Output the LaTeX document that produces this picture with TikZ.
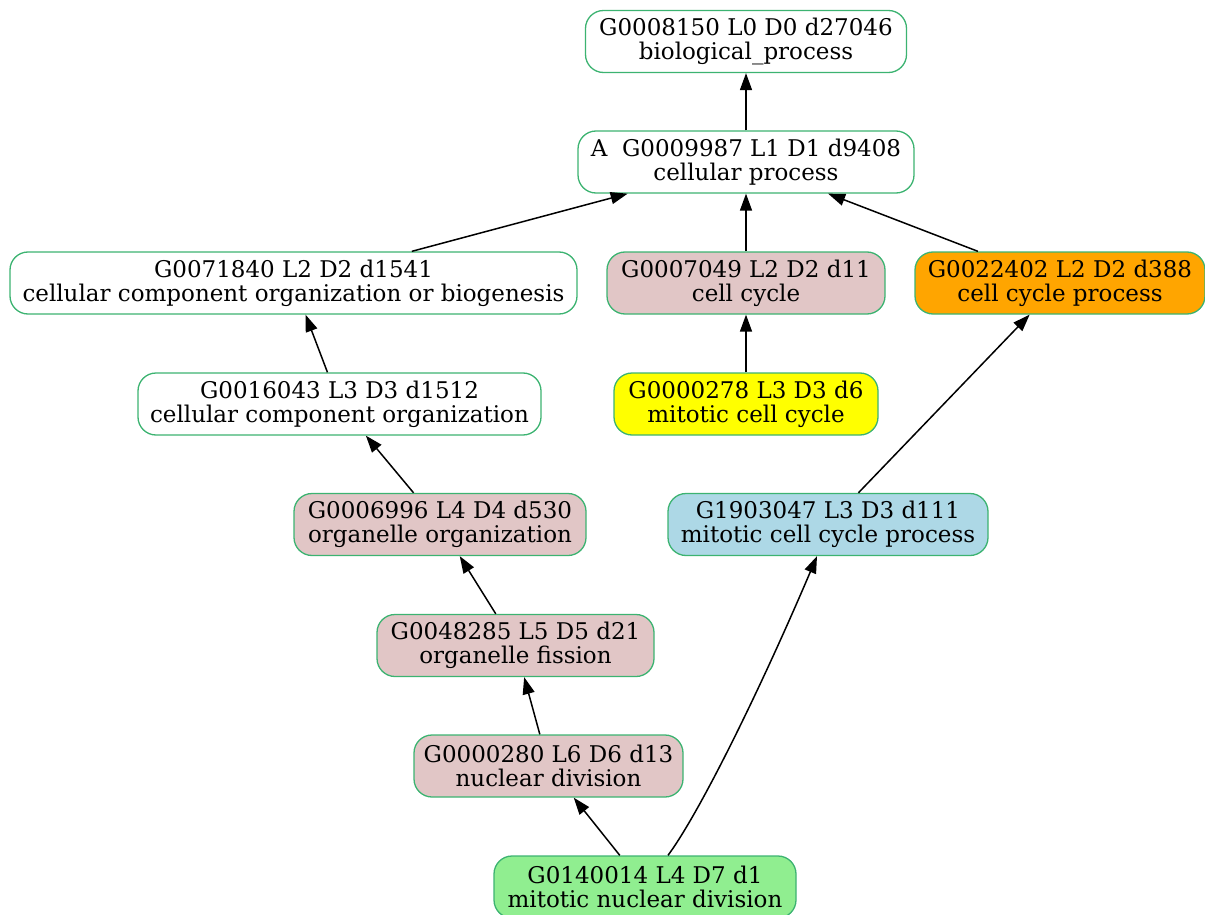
\documentclass[tikz,border=0pt]{standalone}
\usepackage{fontspec}
\setmainfont{DejaVu Serif}
\usetikzlibrary{arrows.meta}

\definecolor{termline}{RGB}{60,179,113}
\definecolor{termpink}{RGB}{225,198,198}
\definecolor{termorange}{RGB}{255,165,0}
\definecolor{termyellow}{RGB}{255,255,0}
\definecolor{termblue}{RGB}{173,216,230}
\definecolor{termgreen}{RGB}{144,238,144}

\begin{document}
\begin{tikzpicture}[x=0.5pt,y=-0.5pt,
        term/.style={draw=termline, fill=white, line width=0.65pt, rounded corners=9pt,
            align=center, minimum height=31pt, inner xsep=0pt,
            font=\fontsize{11.5}{12}\selectfont},
        isa/.style={-{Triangle[length=8.5pt,width=6pt]}, line width=0.75pt}]
        % Page size
        \useasboundingbox (0,0) rectangle (1205,915);

        % Top levels
        \node[term, minimum width=160.5pt] (g0008150) at (746,41.5) {G0008150 L0 D0 d27046\\biological\_process};
        \node[term, minimum width=168pt] (g0009987) at (746,162) {A\ \ G0009987 L1 D1 d9408\\cellular process};

        % Level 2
        \node[term, minimum width=283.5pt] (g0071840) at (293.5,283) {G0071840 L2 D2 d1541\\cellular component organization or biogenesis};
        \node[term, fill=termpink, minimum width=139pt] (g0007049) at (746,283) {G0007049 L2 D2 d11\\cell cycle};
        \node[term, fill=termorange, minimum width=145pt] (g0022402) at (1060,283) {G0022402 L2 D2 d388\\cell cycle process};

        % Level 3
        \node[term, minimum width=201.5pt] (g0016043) at (339.5,404) {G0016043 L3 D3 d1512\\cellular component organization};
        \node[term, fill=termyellow, minimum width=132pt] (g0000278) at (746,404) {G0000278 L3 D3 d6\\mitotic cell cycle};

        % Lower levels
        \node[term, fill=termpink, minimum width=146pt] (g0006996) at (440,524.5) {G0006996 L4 D4 d530\\organelle organization};
        \node[term, fill=termblue, minimum width=160pt] (g1903047) at (828,524.5) {G1903047 L3 D3 d111\\mitotic cell cycle process};
        \node[term, fill=termpink, minimum width=138.5pt] (g0048285) at (515.5,645.5) {G0048285 L5 D5 d21\\organelle fission};
        \node[term, fill=termpink, minimum width=134.5pt] (g0000280) at (548.5,766) {G0000280 L6 D6 d13\\nuclear division};
        \node[term, fill=termgreen, minimum width=151pt] (g0140014) at (645,887) {G0140014 L4 D7 d1\\mitotic nuclear division};

        % is_a edges (child to parent)
        \draw[isa] (g0009987) -- (g0008150);
        \draw[isa] (g0071840) -- (g0009987);
        \draw[isa] (g0007049) -- (g0009987);
        \draw[isa] (g0022402) -- (g0009987);
        \draw[isa] (g0016043) -- (g0071840);
        \draw[isa] (g0000278) -- (g0007049);
        \draw[isa] (g0006996) -- (g0016043);
        \draw[isa] (g1903047) -- (g0022402);
        \draw[isa] (g0048285) -- (g0006996);
        \draw[isa] (g0000280) -- (g0048285);
        \draw[isa] (g0140014) -- (g0000280);
        \draw[isa] ([xshift=11.5pt]g0140014.north) .. controls (700,812) and (760,690) .. ([xshift=-5.5pt]g1903047.south);

    \end{tikzpicture}
\end{document}
